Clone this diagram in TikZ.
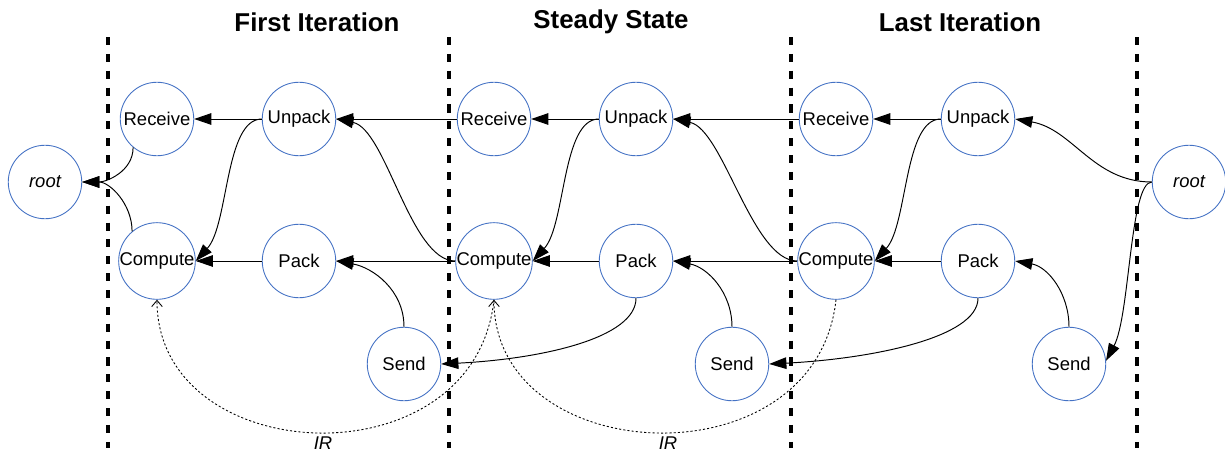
\documentclass[tikz,border=0pt]{standalone}
\usepackage{fontspec}
\setmainfont{Liberation Sans}
\usepackage{xcolor}
\usetikzlibrary{arrows.meta}
\definecolor{nodeblue}{RGB}{68,114,196}

\begin{document}
\begin{tikzpicture}[x=0.02cm, y=0.02cm,
        task/.style={circle, draw=nodeblue, line width=0.5pt, minimum size=1.47cm, inner sep=0pt, font=\fontsize{10.5}{12}\selectfont},
        flow/.style={-{Triangle[length=9.8pt,width=6.6pt]}, line width=0.55pt},
        ir/.style={-{Straight Barb[length=3.5pt,width=6pt]}, line width=0.5pt, dash pattern=on 1.2pt off 1.2pt},
        border/.style={line width=2.3pt, dash pattern=on 4.6pt off 5pt},
        title/.style={font=\bfseries\fontsize{14.7}{17}\selectfont},
        lbl/.style={font=\itshape\fontsize{10.5}{12}\selectfont}]
        \useasboundingbox (0,0) rectangle (1225,-453);

        % iteration borders
        \foreach \bx in {108,449,791,1137}
        	\draw [border] (\bx,-37) -- (\bx,-448);

        \node [title] (firstT) at (317,-22) {First Iteration};
        \node [title] (steadyT) at (611,-22) {Steady State};
        \node [title] (lastT) at (960,-22) {Last Iteration};

        \node [task] (rootL) at (45,-182) {\itshape root};
        \node [task] (rootR) at (1189,-182) {\itshape root};

        \node [task] (recv1) at (157,-119) {Receive};
        \node [task] (unpack1) at (299,-119) {Unpack};
        \node [task] (comp1) at (157,-261) {Compute};
        \node [task] (pack1) at (299,-261) {Pack};
        \node [task] (send1) at (404,-364) {Send};

        \node [task] (recv2) at (494,-119) {Receive};
        \node [task] (unpack2) at (636,-119) {Unpack};
        \node [task] (comp2) at (494,-261) {Compute};
        \node [task] (pack2) at (636,-261) {Pack};
        \node [task] (send2) at (732,-364) {Send};

        \node [task] (recv3) at (836,-119) {Receive};
        \node [task] (unpack3) at (978,-119) {Unpack};
        \node [task] (comp3) at (836,-261) {Compute};
        \node [task] (pack3) at (978,-261) {Pack};
        \node [task] (send3) at (1069,-364) {Send};

        % first iteration
        \draw [flow] (recv1.-130) to[out=-90,in=0] (rootL.east);
        \draw [flow] (comp1.130) to[out=90,in=0] (rootL.east);
        \draw [flow] (unpack1) -- (recv1);
        \draw [flow] (unpack1.west) .. controls +(-37,0) and +(33,36) .. (comp1.east);
        \draw [flow] (pack1) -- (comp1);
        \draw [flow] (send1.north) to[out=90,in=-10] (pack1.east);

        % steady state
        \draw [flow] (recv2) -- (unpack1);
        \draw [flow] (comp2.west) .. controls +(-45,0) and +(50,-10) .. (unpack1.east);
        \draw [flow] (comp2) -- (pack1);
        \draw [flow] (pack2.south) .. controls +(0,-40) and +(100,5) .. (send1.east);
        \draw [flow] (unpack2) -- (recv2);
        \draw [flow] (unpack2.west) .. controls +(-37,0) and +(33,36) .. (comp2.east);
        \draw [flow] (pack2) -- (comp2);
        \draw [flow] (send2.north) to[out=90,in=-10] (pack2.east);

        % last iteration
        \draw [flow] (recv3) -- (unpack2);
        \draw [flow] (comp3.west) .. controls +(-45,0) and +(50,-10) .. (unpack2.east);
        \draw [flow] (comp3) -- (pack2);
        \draw [flow] (pack3.south) .. controls +(0,-40) and +(100,5) .. (send2.east);
        \draw [flow] (unpack3) -- (recv3);
        \draw [flow] (unpack3.west) .. controls +(-37,0) and +(33,36) .. (comp3.east);
        \draw [flow] (pack3) -- (comp3);
        \draw [flow] (send3.north) to[out=90,in=-10] (pack3.east);
        \draw [flow] (rootR.west) to[out=180,in=-10] (unpack3.east);
        \draw [flow] (rootR.west) .. controls +(-22,0) and +(24,45) .. (send3.5);

        % IR dependences
        \draw [ir] (comp2.south) .. controls +(-20,-185) and +(0,-170) .. (comp1.south);
        \draw [ir] (comp3.south) .. controls +(-20,-185) and +(0,-170) .. (comp2.south);
        \node [lbl] (irA) at (323,-443) {IR};
        \node [lbl] (irB) at (668,-443) {IR};
\end{tikzpicture}
\end{document}
